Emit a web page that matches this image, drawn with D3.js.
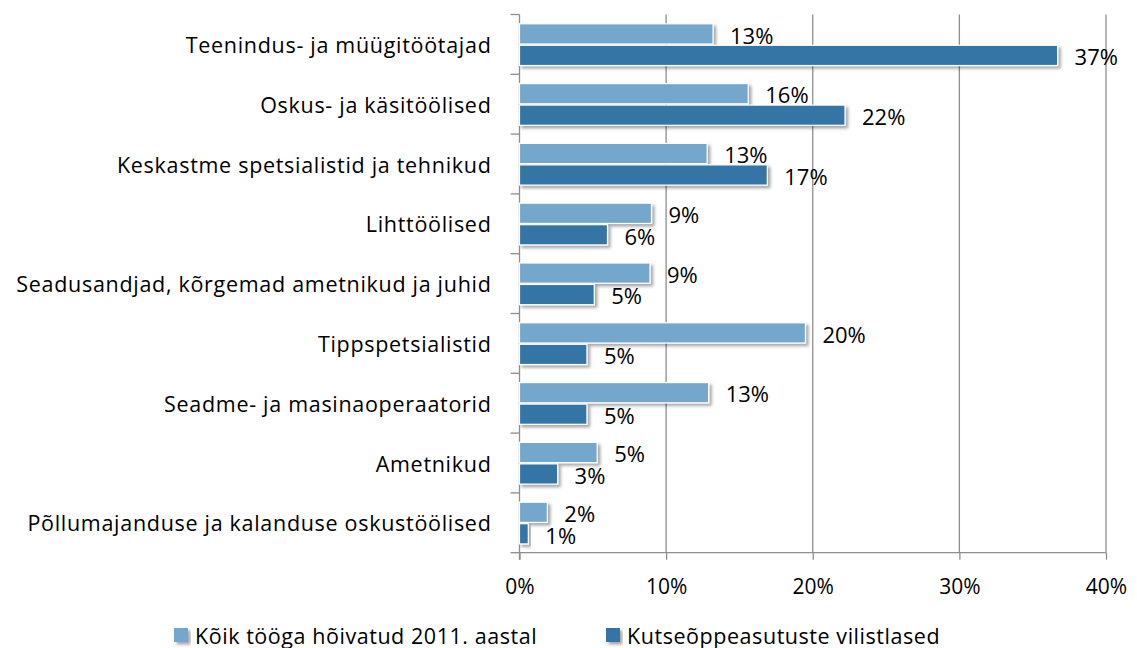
<!DOCTYPE html>
<html>
<head>
<meta charset="utf-8">
<script src="https://cdn.jsdelivr.net/npm/d3@7"></script>
<style>
  body { margin: 0; background: #fff; }
  svg { display: block; font-family: "Open Sans", sans-serif; }
</style>
</head>
<body>
<svg id="chart" width="1137" height="648"></svg>
<script>
// Occupation groups, top to bottom
const categories = [
  "Teenindus- ja müügitöötajad",
  "Oskus- ja käsitöölised",
  "Keskastme spetsialistid ja tehnikud",
  "Lihttöölised",
  "Seadusandjad, kõrgemad ametnikud ja juhid",
  "Tippspetsialistid",
  "Seadme- ja masinaoperaatorid",
  "Ametnikud",
  "Põllumajanduse ja kalanduse oskustöölised"
];
const seriesNames = ["Kõik tööga hõivatud 2011. aastal", "Kutseõppeasutuste vilistlased"];
// Shares in percent
const allEmployed = [13.2, 15.6, 12.8, 9.0, 8.9, 19.5, 12.9, 5.3, 1.9];
const graduates   = [36.7, 22.2, 16.9, 6.0, 5.1, 4.6, 4.6, 2.6, 0.6];
const xTicks = [0, 10, 20, 30, 40];

const colors = ["#74a6cc", "#3574a5"];
const gridColor = "#8e8e8e";

const svg = d3.select("#chart");

const x = d3.scaleLinear().domain([0, 40]).range([519.5, 1106]);
const y = d3.scaleBand().domain(categories).range([14.5, 552.7]).paddingInner(0).paddingOuter(0);
const ySub = d3.scaleBand().domain([0, 1]).range([9.3, 51]).paddingInner(0.06);

// Drop shadow for the bars
const defs = svg.append("defs");
const f = defs.append("filter").attr("id", "shadow")
  .attr("x", "-10%").attr("y", "-30%").attr("width", "130%").attr("height", "190%");
f.append("feDropShadow").attr("dx", 2.5).attr("dy", 2.5).attr("stdDeviation", 1.8)
  .attr("flood-color", "#000").attr("flood-opacity", 0.35);

// Vertical gridlines
svg.append("g").selectAll("line").data(xTicks.slice(1)).join("line")
  .attr("x1", d => x(d)).attr("x2", d => x(d))
  .attr("y1", 14.5).attr("y2", 552.7)
  .attr("stroke", gridColor).attr("stroke-width", 1.3);

// Bottom axis
const xAxis = d3.axisBottom(x).tickValues(xTicks).tickFormat(d => d + "%").tickSize(7).tickPadding(19);
const gx = svg.append("g").attr("transform", "translate(0,552.7)").call(xAxis);
gx.select(".domain").attr("stroke", gridColor).attr("stroke-width", 1.3).attr("d", `M${x(0)},0H${x(40)}`);
gx.selectAll(".tick line").attr("stroke", gridColor).attr("stroke-width", 1.3);
gx.selectAll(".tick text").attr("font-size", 21).attr("fill", "#000")
  .attr("font-family", "'Open Sans', sans-serif");

// Left axis with ticks between categories
const boundaries = categories.map(c => y(c)).concat([y.range()[1]]);
const gy = svg.append("g");
gy.append("line").attr("x1", x(0)).attr("x2", x(0)).attr("y1", 14.5).attr("y2", 559.7)
  .attr("stroke", gridColor).attr("stroke-width", 1.3);
gy.selectAll("line.tk").data(boundaries).join("line").attr("class", "tk")
  .attr("x1", x(0) - 9).attr("x2", x(0)).attr("y1", d => d).attr("y2", d => d)
  .attr("stroke", gridColor).attr("stroke-width", 1.3);
gy.selectAll("text").data(categories).join("text")
  .attr("x", 491.5).attr("y", d => y(d) + y.bandwidth() / 2)
  .attr("text-anchor", "end").attr("dominant-baseline", "central")
  .attr("font-size", 21.5).attr("letter-spacing", 0.7).attr("fill", "#000").text(d => d);

// Bars
const rows = categories.map((c, i) => ({ c, vals: [allEmployed[i], graduates[i]] }));
const groups = svg.append("g").selectAll("g").data(rows).join("g")
  .attr("transform", d => `translate(0,${y(d.c)})`);
const bars = groups.selectAll("g.bar").data(d => d.vals.map((v, s) => ({ v, s }))).join("g").attr("class", "bar");
bars.append("rect")
  .attr("x", x(0)).attr("y", d => ySub(d.s))
  .attr("width", d => x(d.v) - x(0)).attr("height", ySub.bandwidth())
  .attr("fill", d => colors[d.s]).attr("stroke", "#fff").attr("stroke-width", 1.2)
  .attr("filter", "url(#shadow)");
bars.append("text")
  .attr("x", d => x(d.v) + 17).attr("y", d => ySub(d.s) + ySub.bandwidth() / 2 + 0.8)
  .attr("dominant-baseline", "central").attr("font-size", 22).attr("fill", "#000")
  .text(d => Math.round(d.v) + "%");

// Legend
const legendX = [174, 606];
const lg = svg.append("g").selectAll("g").data(seriesNames).join("g")
  .attr("transform", (d, i) => `translate(${legendX[i]},628)`);
lg.append("rect").attr("width", 14).attr("height", 14)
  .attr("fill", (d, i) => colors[i]).attr("filter", "url(#shadow)");
lg.append("text").attr("x", 21).attr("y", 7).attr("dominant-baseline", "central")
  .attr("font-size", 21.5).attr("letter-spacing", 0.55).attr("fill", "#000").text(d => d);
</script>
</body>
</html>
